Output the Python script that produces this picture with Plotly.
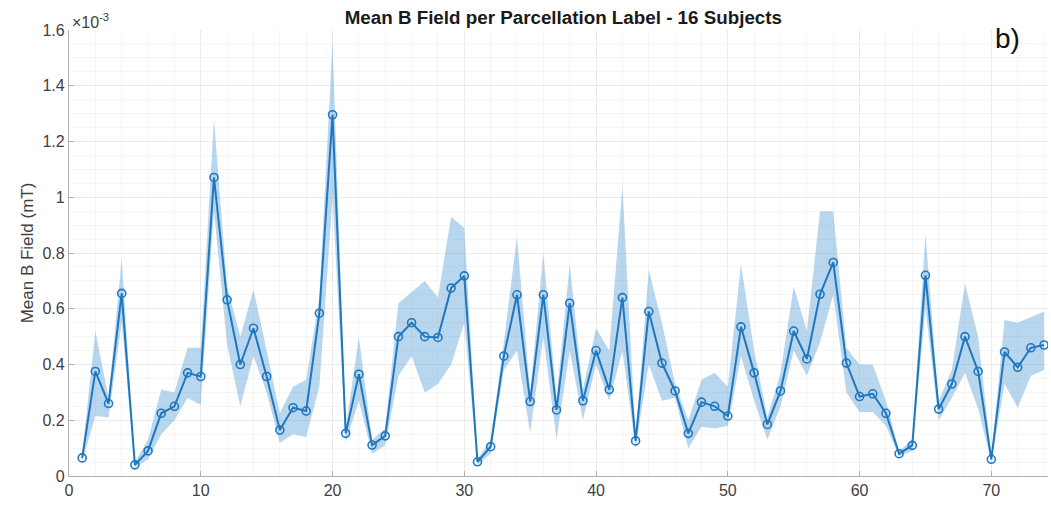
import plotly.graph_objects as go

# Parcellation label index and mean B field (values in units of 1e-3 mT)
labels = list(range(1, 75))
mean_b = [0.065, 0.375, 0.26, 0.655, 0.04, 0.09, 0.225, 0.25, 0.37, 0.357,
          1.071, 0.632, 0.40, 0.53, 0.357, 0.165, 0.245, 0.233, 0.584, 1.296,
          0.153, 0.365, 0.111, 0.144, 0.50, 0.55, 0.50, 0.497, 0.674, 0.718,
          0.051, 0.105, 0.43, 0.65, 0.267, 0.65, 0.237, 0.62, 0.27, 0.45,
          0.31, 0.64, 0.126, 0.59, 0.405, 0.305, 0.153, 0.265, 0.25, 0.215,
          0.535, 0.37, 0.185, 0.305, 0.52, 0.42, 0.652, 0.766, 0.405, 0.285,
          0.295, 0.225, 0.08, 0.11, 0.72, 0.24, 0.33, 0.50, 0.375, 0.06,
          0.445, 0.39, 0.46, 0.47]
upper_b = [0.08, 0.52, 0.28, 0.78, 0.05, 0.13, 0.31, 0.30, 0.46, 0.46,
           1.28, 0.68, 0.50, 0.67, 0.45, 0.225, 0.32, 0.345, 0.64, 1.56,
           0.17, 0.50, 0.13, 0.17, 0.62, 0.66, 0.70, 0.64, 0.93, 0.89,
           0.06, 0.13, 0.48, 0.86, 0.30, 0.80, 0.28, 0.76, 0.31, 0.53,
           0.45, 1.04, 0.14, 0.74, 0.55, 0.33, 0.20, 0.345, 0.37, 0.32,
           0.76, 0.45, 0.21, 0.37, 0.68, 0.52, 0.95, 0.95, 0.46, 0.40,
           0.40, 0.27, 0.09, 0.13, 0.87, 0.27, 0.38, 0.69, 0.50, 0.07,
           0.56, 0.55, 0.57, 0.59]
lower_b = [0.05, 0.215, 0.21, 0.55, 0.03, 0.06, 0.15, 0.20, 0.28, 0.255,
           0.95, 0.47, 0.25, 0.43, 0.30, 0.118, 0.15, 0.14, 0.32, 1.00,
           0.12, 0.27, 0.08, 0.11, 0.36, 0.43, 0.30, 0.33, 0.40, 0.55,
           0.04, 0.08, 0.38, 0.45, 0.154, 0.50, 0.13, 0.45, 0.20, 0.40,
           0.27, 0.45, 0.10, 0.40, 0.27, 0.28, 0.10, 0.177, 0.17, 0.18,
           0.43, 0.27, 0.13, 0.25, 0.45, 0.36, 0.48, 0.65, 0.30, 0.23,
           0.23, 0.18, 0.07, 0.09, 0.60, 0.20, 0.28, 0.37, 0.24, 0.05,
           0.33, 0.245, 0.36, 0.38]

x_ticks = [0, 10, 20, 30, 40, 50, 60, 70]
y_ticks = [0, 0.2, 0.4, 0.6, 0.8, 1.0, 1.2, 1.4, 1.6]
y_tick_text = ["0", "0.2", "0.4", "0.6", "0.8", "1", "1.2", "1.4", "1.6"]

LINE = "#1f77bd"
BAND = "rgba(100,165,220,0.45)"
FONT = "Liberation Sans, Arial, sans-serif"
TXT = "#404040"

fig = go.Figure()

# shaded spread band
fig.add_trace(go.Scatter(
    x=labels + labels[::-1],
    y=upper_b + lower_b[::-1],
    fill="toself", fillcolor=BAND,
    line=dict(width=0), mode="lines",
    hoverinfo="skip", showlegend=False,
))

# mean line with open circle markers
fig.add_trace(go.Scatter(
    x=labels, y=mean_b, mode="lines+markers",
    line=dict(color=LINE, width=2),
    marker=dict(symbol="circle-open", size=8, color=LINE, line=dict(width=1.6)),
    showlegend=False,
))

axis_common = dict(
    showline=True, linecolor="#b0b0b0", linewidth=1.2,
    ticks="inside", ticklen=5, tickcolor="#b0b0b0",
    showgrid=True, gridcolor="#ebebeb", gridwidth=1,
    zeroline=False, mirror=False,
    tickfont=dict(family=FONT, size=16, color=TXT),
)

fig.update_xaxes(
    range=[0, 74.3], tickvals=x_ticks,
    minor=dict(dtick=2, showgrid=True, gridcolor="#f5f5f5"),
    **axis_common,
)
fig.update_yaxes(
    range=[0, 1.6], tickvals=y_ticks, ticktext=y_tick_text,
    minor=dict(dtick=0.05, showgrid=True, gridcolor="#f5f5f5"),
    title=dict(text="Mean B Field (mT)", font=dict(family=FONT, size=17, color=TXT), standoff=4),
    **axis_common,
)

fig.update_layout(
    width=1051, height=512,
    margin=dict(l=69, r=3, t=30, b=36),
    paper_bgcolor="white", plot_bgcolor="white",
    title=dict(
        text="<b>Mean B Field per Parcellation Label - 16 Subjects</b>",
        x=0.536, xanchor="center", y=0.966, yanchor="middle",
        font=dict(family=FONT, size=18.8, color="#1a1a1a"),
    ),
    annotations=[
        dict(text="×10<sup>-3</sup>", xref="paper", yref="paper", x=0.0, y=1.0,
             xanchor="left", yanchor="bottom", showarrow=False, xshift=1, yshift=-3,
             font=dict(family=FONT, size=16, color=TXT)),
        dict(text="b)", xref="paper", yref="paper", x=0.959, y=1.0,
             xanchor="center", yanchor="middle", showarrow=False, yshift=-8,
             font=dict(family=FONT, size=28, color="#111111")),
    ],
)

fig.write_html("out.html")
